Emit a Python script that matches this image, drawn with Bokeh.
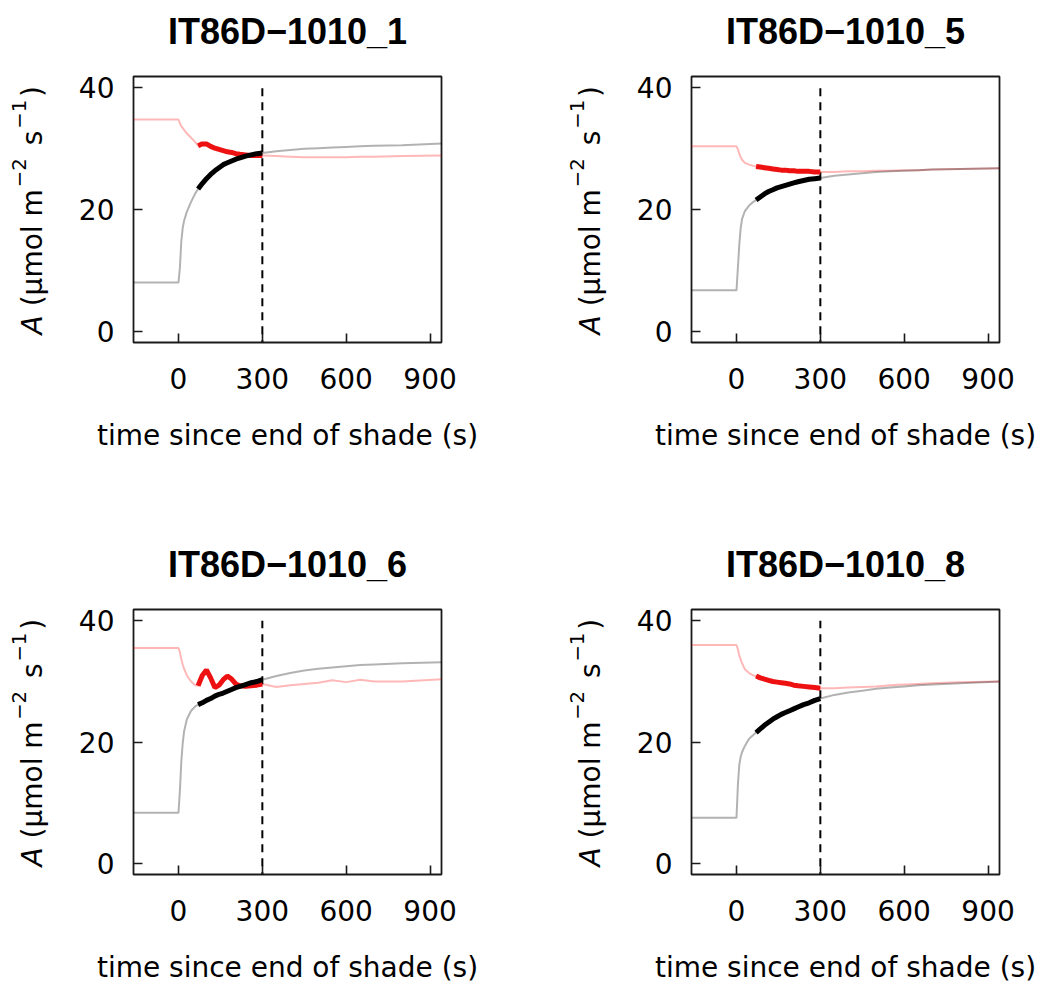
import math
from bokeh.plotting import figure
from bokeh.models import Range1d, FixedTicker, Label
from bokeh.layouts import row, column
from bokeh.embed import file_html
from bokeh.resources import INLINE

# ---------------- data ----------------
time_s = [-170, -100, -50, 0, 5, 10, 15, 20, 30, 45, 60, 70, 85, 100, 115, 130,
          145, 160, 175, 190, 205, 220, 240, 260, 280, 300, 350, 400, 450, 500,
          550, 600, 650, 700, 800, 950]

titles = ["IT86D\u22121010_1", "IT86D\u22121010_5", "IT86D\u22121010_6", "IT86D\u22121010_8"]

red_1 = [34.8, 34.8, 34.8, 34.8, 34.2, 33.7, 33.4, 33.1, 32.5, 31.8, 31.1, 30.5,
         30.8, 30.8, 30.4, 30.1, 29.9, 29.7, 29.5, 29.4, 29.2, 29.1, 29.0, 28.9,
         28.9, 28.9, 28.8, 28.7, 28.6, 28.6, 28.6, 28.6, 28.7, 28.7, 28.8, 28.9]
red_5 = [30.4, 30.4, 30.4, 30.4, 29.9, 29.2, 28.6, 28.2, 27.7, 27.4, 27.2, 27.1,
         27.0, 26.9, 26.8, 26.7, 26.6, 26.5, 26.5, 26.4, 26.4, 26.3, 26.3, 26.3,
         26.2, 26.2, 26.2, 26.3, 26.3, 26.4, 26.4, 26.5, 26.5, 26.6, 26.7, 26.8]
red_6 = [35.5, 35.5, 35.5, 35.5, 34.8, 33.7, 32.8, 32.1, 31.0, 30.0, 29.4, 29.3,
         31.0, 31.9, 30.6, 29.0, 29.4, 30.3, 30.9, 30.4, 29.6, 29.3, 29.2, 29.3,
         29.4, 29.6, 29.1, 29.4, 29.6, 29.8, 30.2, 29.9, 30.3, 30.0, 30.0, 30.4]
red_8 = [36.0, 36.0, 36.0, 36.0, 35.3, 34.3, 33.6, 33.0, 32.0, 31.4, 31.0, 30.9,
         30.6, 30.4, 30.2, 30.0, 29.9, 29.8, 29.7, 29.6, 29.4, 29.3, 29.2, 29.1,
         29.0, 28.9, 28.9, 29.0, 29.1, 29.2, 29.4, 29.5, 29.6, 29.7, 29.9, 30.0]

black_1 = [8.1, 8.1, 8.1, 8.1, 10.5, 14.8, 17.0, 18.2, 19.7, 21.3, 22.7, 23.4,
           24.3, 25.1, 25.8, 26.4, 26.9, 27.4, 27.7, 28.0, 28.3, 28.5, 28.8, 29.0,
           29.2, 29.3, 29.6, 29.8, 30.0, 30.1, 30.2, 30.3, 30.4, 30.5, 30.6, 30.9]
black_5 = [6.8, 6.8, 6.8, 6.8, 10.5, 14.3, 17.0, 18.5, 19.8, 20.7, 21.3, 21.6,
           22.1, 22.6, 23.0, 23.3, 23.6, 23.8, 24.0, 24.2, 24.4, 24.6, 24.8, 25.0,
           25.1, 25.2, 25.6, 25.8, 26.0, 26.2, 26.3, 26.4, 26.5, 26.6, 26.7, 26.8]
black_6 = [8.4, 8.4, 8.4, 8.4, 12.0, 16.8, 19.8, 21.8, 23.8, 25.2, 25.9, 26.2,
           26.5, 26.9, 27.2, 27.6, 27.9, 28.1, 28.4, 28.7, 29.0, 29.2, 29.5, 29.8,
           30.0, 30.3, 30.9, 31.4, 31.8, 32.1, 32.3, 32.5, 32.7, 32.8, 33.0, 33.2]
black_8 = [7.6, 7.6, 7.6, 7.6, 13.0, 16.3, 17.6, 18.4, 19.4, 20.6, 21.2, 21.6,
           22.2, 22.8, 23.3, 23.8, 24.2, 24.6, 24.9, 25.2, 25.5, 25.8, 26.2, 26.5,
           26.9, 27.2, 27.8, 28.2, 28.5, 28.8, 29.0, 29.2, 29.4, 29.5, 29.7, 30.0]

reds = [red_1, red_5, red_6, red_8]
blacks = [black_1, black_5, black_6, black_8]

bold_start, bold_end = 70, 300
vline_x = [300, 300]
vline_y = [-5, 40]
x_ticks = [0, 300, 600, 900]
y_ticks = [0, 20, 40]
x_lim = (-161, 941)
y_lim = (-1.75, 41.85)
x_label = "time since end of shade (s)"

FONT = "DejaVu Sans"
FS = 28
SUP = 19.6
FRAME_W, FRAME_H = 308, 266

# ---------------- layout geometry (pixels) ----------------
STRIP_H = 60                 # title strips
TOP = 16                     # top border of the panel figures
ROW_H = [473, 393]           # panel rows
BOTTOM = [191, 111]          # bottom border of each panel row
LAB_W = [73, 74]             # y-label strips (left / right column)
MAIN_W = [484, 410]          # panel figures
MAIN_RIGHT = [116, 42]
MAIN_LEFT = 60


def blank(width, height, top=0, bottom=0, yr=None):
    p = figure(width=width, height=height, output_backend="svg",
               toolbar_location=None, x_range=Range1d(0, width),
               y_range=Range1d(*(yr if yr else (0, height))),
               x_axis_location=None, y_axis_location=None)
    p.min_border_left = 0
    p.min_border_right = 0
    p.min_border_top = top
    p.min_border_bottom = bottom
    p.outline_line_color = None
    p.xgrid.visible = False
    p.ygrid.visible = False
    p.background_fill_color = "white"
    p.border_fill_color = "white"
    return p


def title_strip(t_left, t_right):
    p = blank(1041, STRIP_H)
    centers = [LAB_W[0] + MAIN_LEFT + FRAME_W / 2,
               LAB_W[0] + MAIN_W[0] + LAB_W[1] + MAIN_LEFT + FRAME_W / 2]
    for cx, txt in zip(centers, (t_left, t_right)):
        p.add_layout(Label(x=cx, y=STRIP_H - 30.5, text=txt,
                           text_font="Liberation Sans", text_font_size="36px",
                           text_font_style="bold", text_color="black",
                           text_align="center", text_baseline="middle"))
    return p


def ylabel_strip(width, height, bottom):
    # frame of this strip coincides with the panel frame: y = px above frame bottom
    p = blank(width, height, top=TOP, bottom=bottom, yr=(0, FRAME_H))
    w = {'A': 0.684, ' ': 0.318, '(': 0.390, 'µ': 0.636, 'm': 0.974, 'o': 0.612,
         'l': 0.278, 's': 0.521, ')': 0.390, '\u2212': 0.838, '1': 0.636, '2': 0.636}

    def width_of(s, size):
        return sum(w[c] for c in s) * size

    frame_left = width + MAIN_LEFT
    base_x = frame_left - 101.0
    sup_x = frame_left - 115.0
    y = 8.0
    pieces = [("A", FS, base_x, "italic", 0),
              ("(µmol m", FS, base_x, "normal", 9),
              ("\u22122", SUP, sup_x, "normal", 2),
              ("s", FS, base_x, "normal", 13),
              ("\u22121", SUP, sup_x, "normal", 2),
              (")", FS, base_x, "normal", 3)]
    for txt, size, xx, style, gap in pieces:
        y += gap
        p.add_layout(Label(x=xx, y=y, text=txt, angle=math.pi / 2,
                           text_font=FONT, text_font_size=f"{size}px",
                           text_font_style=style, text_baseline="middle",
                           text_align="left", text_color="black"))
        y += width_of(txt, size)
    return p


def make_panel(i, col, rw):
    p = figure(width=MAIN_W[col], height=ROW_H[rw], output_backend="svg",
               toolbar_location=None, x_range=Range1d(*x_lim),
               y_range=Range1d(*y_lim), min_border_left=MAIN_LEFT,
               min_border_right=MAIN_RIGHT[col], min_border_top=TOP,
               min_border_bottom=BOTTOM[rw])
    p.xgrid.visible = False
    p.ygrid.visible = False
    p.outline_line_color = "#1a1a1a"
    p.outline_line_width = 1.8
    p.background_fill_color = "white"
    p.border_fill_color = "white"

    for ax in (p.xaxis, p.yaxis):
        ax.axis_line_color = None
        ax.major_tick_in = 9
        ax.major_tick_out = 0
        ax.major_tick_line_width = 1.6
        ax.major_tick_line_color = "#1a1a1a"
        ax.minor_tick_line_color = None
        ax.major_label_text_font = FONT
        ax.major_label_text_font_size = f"{FS}px"
        ax.major_label_text_color = "black"
    p.xaxis.ticker = FixedTicker(ticks=x_ticks)
    p.yaxis.ticker = FixedTicker(ticks=y_ticks)
    p.xaxis.major_label_standoff = 25
    p.yaxis.major_label_standoff = 19
    p.yaxis.major_label_orientation = "horizontal"
    p.xaxis.axis_label = x_label
    p.xaxis.axis_label_text_font = FONT
    p.xaxis.axis_label_text_font_size = f"{FS}px"
    p.xaxis.axis_label_text_font_style = "normal"
    p.xaxis.axis_label_text_color = "black"
    p.xaxis.axis_label_standoff = 27

    t = time_s
    r = reds[i]
    b = blacks[i]
    p.line(t, r, line_color="red", line_alpha=0.28, line_width=2)
    p.line(t, b, line_color="black", line_alpha=0.3, line_width=2)
    p.line(vline_x, vline_y, line_color="black", line_width=2, line_dash="8 6")
    idx = [k for k, tt in enumerate(t) if bold_start <= tt <= bold_end]
    tb = [t[k] for k in idx]
    p.line(tb, [r[k] for k in idx], line_color="#ee1111", line_width=5)
    p.line(tb, [b[k] for k in idx], line_color="black", line_width=5)
    return p


rows = []
for rw in range(2):
    rows.append(title_strip(titles[2 * rw], titles[2 * rw + 1]))
    cells = []
    for col in range(2):
        cells.append(ylabel_strip(LAB_W[col], ROW_H[rw], BOTTOM[rw]))
        cells.append(make_panel(2 * rw + col, col, rw))
    rows.append(row(*cells, spacing=0))

layout = column(*rows, spacing=0)

open("out.html", "w").write(file_html(layout, INLINE))
